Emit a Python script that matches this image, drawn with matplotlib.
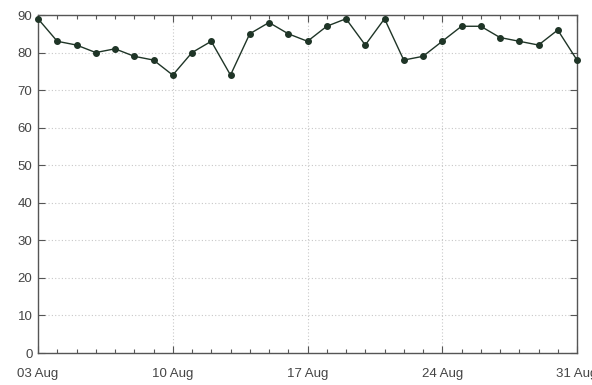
import numpy as np
import matplotlib
matplotlib.use("Agg")
import matplotlib.pyplot as plt
import matplotlib.dates as mdates
from datetime import date

# daily values, 03 Aug .. 31 Aug
days = [date(2015, 8, d) for d in range(3, 32)]
values = [89, 83, 82, 80, 81, 79, 78, 74, 80, 83, 74, 85, 88, 85, 83,
          87, 89, 82, 89, 78, 79, 83, 87, 87, 84, 83, 82, 86, 78]
y_ticks = list(range(0, 100, 10))

plt.rcParams['font.family'] = ['Liberation Sans', 'DejaVu Sans']

fig = plt.figure(figsize=(5.92, 3.85), dpi=100)
ax = fig.add_axes([38/592, 32/385, (577-38)/592, (353-15)/385])

line_col = '#1f3527'
ax.plot(days, values, color=line_col, lw=1.0, marker='o', ms=4,
        mfc=line_col, mec=line_col, clip_on=False, zorder=3)

ax.set_xlim(days[0], days[-1])
ax.set_ylim(0, 90)
ax.set_yticks(y_ticks)
ax.xaxis.set_major_locator(mdates.DayLocator(bymonthday=[3, 10, 17, 24, 31]))
ax.xaxis.set_minor_locator(mdates.DayLocator())
ax.xaxis.set_major_formatter(mdates.DateFormatter('%d %b'))

ax.grid(True, which='major', color='#c8c8c8', ls=(0, (1, 2)), lw=0.8)
ax.tick_params(which='both', direction='in', top=True, right=True,
               labelsize=9.5, labelcolor='#444444', color='#555555')
ax.tick_params(which='major', length=5, width=0.8, pad=4)
ax.tick_params(which='minor', length=3, width=0.8)
ax.tick_params(axis='x', which='major', pad=11)
for s in ax.spines.values():
    s.set_color('#555555')
    s.set_linewidth(1.0)

fig.savefig('out.png', dpi=100)
